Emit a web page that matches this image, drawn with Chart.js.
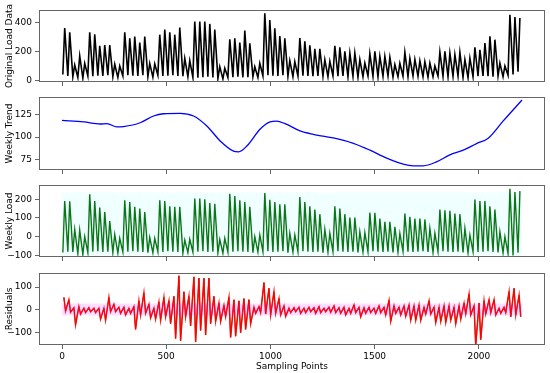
<!DOCTYPE html>
<html><head><meta charset="utf-8">
<script src="https://cdn.jsdelivr.net/npm/chart.js@4.4.0/dist/chart.umd.min.js"></script>
<style>
html,body{margin:0;padding:0;background:#fff;}
#wrap{position:relative;width:550px;height:373px;}
#wrap canvas{position:absolute;left:0;top:0;}
</style></head><body>
<div id="wrap">
<canvas id="c1" width="550" height="373"></canvas>
<canvas id="c2" width="550" height="373"></canvas>
<canvas id="c3" width="550" height="373"></canvas>
<canvas id="c4" width="550" height="373"></canvas>
</div>
<script>
// ---------- data ----------
const samplesPerDay = 24;
const xTicks = [0, 500, 1000, 1500, 2000];

// Original load: daily peak and daily trough (92 days)
const loadPeak = [365,335,107,170,118,335,320,240,245,245,112,100,335,293,305,263,305,118,114,318,353,335,318,367,153,137,409,409,409,393,353,95,84,286,293,263,346,258,95,118,467,420,363,309,293,137,130,295,271,244,220,220,144,132,241,230,202,190,190,144,120,186,202,167,167,160,110,118,195,153,146,135,130,120,100,197,202,190,179,195,144,155,230,213,260,307,283,120,100,457,441,434];
const loadLow  = [40,30,25,20,15,30,28,32,30,35,25,20,30,35,32,30,35,25,22,35,30,32,35,30,28,25,20,18,22,25,20,12,10,20,22,25,20,22,25,20,30,35,32,30,35,28,25,30,32,30,28,30,28,25,30,28,30,25,28,22,25,30,28,25,28,30,22,25,28,25,30,28,25,22,25,30,28,25,28,30,20,18,25,28,30,28,25,30,25,35,40,60];

// Weekly trend: [sample, value]
const trendX = [0,104,184,216,263,295,375,439,487,567,631,695,759,823,847,887,950,998,1030,1070,1142,1206,1318,1398,1478,1558,1637,1685,1733,1797,1861,1925,1989,2045,2117,2207];
const trendY = [118.7,116.9,114.6,115,111.3,111.7,116,123.5,126,126.5,123.5,112.4,95.7,84.3,83.5,90,108.7,116.9,117.8,115,106.9,103.1,98.3,93.1,85.4,76.5,69.8,68,68,72.4,80.2,85.4,92.8,98.7,118,141.3];

// Weekly load: daily peak and trough
const weeklyPeak = [190,189,39,35,0,226,190,155,132,83,12,-9,194,185,159,150,132,-4,-9,194,190,162,159,159,-18,-14,203,203,199,180,176,-14,-9,229,217,194,185,159,0,9,233,197,185,173,173,18,9,212,185,162,145,120,39,18,162,150,120,102,102,26,21,129,127,97,79,79,53,18,123,106,97,97,92,44,18,145,141,138,123,120,44,9,198,190,190,162,145,26,0,256,238,243];
const weeklyLow  = [-85,-80,-82,-90,-95,-85,-80,-78,-82,-80,-85,-88,-82,-80,-78,-80,-82,-85,-86,-80,-82,-78,-80,-82,-88,-85,-82,-80,-78,-82,-80,-86,-88,-82,-80,-78,-80,-82,-85,-82,-80,-78,-82,-80,-78,-85,-82,-80,-78,-80,-82,-80,-85,-82,-80,-78,-80,-82,-80,-84,-82,-80,-78,-80,-82,-80,-84,-82,-78,-80,-82,-80,-78,-82,-84,-80,-78,-80,-82,-80,-84,-86,-80,-82,-80,-78,-82,-84,-86,-90,-100,-85];

// Residuals: daily max and min
const resMax = [55,45,10,15,8,10,8,8,8,55,25,12,12,8,15,40,75,25,8,35,55,40,60,150,80,60,145,140,140,140,60,30,20,55,45,40,50,45,12,15,120,95,80,50,18,8,10,12,8,12,10,15,8,12,18,10,12,8,22,12,10,12,8,18,12,42,18,12,18,22,18,22,12,40,12,12,18,18,12,18,30,70,18,30,40,45,45,8,12,80,95,65];
const resMin = [-5,-10,-65,-18,-12,-8,-12,-40,-45,-8,-8,-15,-22,-15,-85,-22,-15,-35,-40,-45,-30,-60,-125,-135,-30,-70,-140,-90,-110,-60,-50,-50,-30,-120,-115,-100,-85,-60,-15,-12,-18,-22,-15,-22,-28,-12,-8,-15,-12,-8,-15,-12,-8,-10,-12,-15,-22,-15,-12,-30,-15,-12,-15,-12,-22,-50,-15,-22,-28,-45,-45,-45,-18,-18,-55,-50,-55,-45,-60,-40,-18,-22,-155,-130,-18,-12,-22,-15,-12,-30,-22,-30];
const resBand = [28, -24];

// ---------- build points ----------
function dayPoints(low, peak, lowHour, peakHour){
  const pts = [];
  for (let d = 0; d < peak.length; d++){
    pts.push({x: d*samplesPerDay + lowHour, y: low[d]});
    pts.push({x: d*samplesPerDay + peakHour, y: peak[d]});
  }
  return pts;
}
const FONT = {family: "'DejaVu Sans', sans-serif", size: 9};
Chart.defaults.font = FONT;
Chart.defaults.color = '#000';

const frame = {
  id: 'frame',
  afterDraw(chart){
    const a = chart.chartArea, ctx = chart.ctx;
    ctx.save();
    ctx.strokeStyle = '#666';
    ctx.lineWidth = 1;
    ctx.strokeRect(Math.round(a.left)+0.5, Math.round(a.top)+0.5, Math.round(a.right-a.left)-1, Math.round(a.bottom-a.top)-1);
    ctx.restore();
  }
};

const fmt = v => (v < 0 ? '\u2212' + Math.abs(v) : String(v));

function makeChart(id, cfg){
  const showX = cfg.showX;
  new Chart(document.getElementById(id), {
    type: 'line',
    data: {datasets: cfg.datasets},
    options: {
      responsive: false, animation: false, devicePixelRatio: 1,
      layout: {padding: {left: 0, right: 5, top: cfg.top, bottom: cfg.bottom}},
      plugins: {legend: {display: false}, tooltip: {enabled: false}},
      elements: {point: {radius: 0}},
      scales: {
        x: {
          type: 'linear', min: -110.35, max: 2317.35,
          afterBuildTicks: s => { s.ticks = xTicks.map(v => ({value: v})); },
          afterFit: s => { s.height = showX ? 28 : 6; },
          grid: {drawOnChartArea: false, drawTicks: true, tickLength: 4, color: '#666'},
          border: {display: false},
          ticks: {display: showX, padding: 2, maxRotation: 0, font: FONT, color: '#000', callback: fmt},
          title: {display: showX, text: 'Sampling Points', font: FONT, color: '#000', padding: {top: 0, bottom: 1}}
        },
        y: {
          type: 'linear', min: cfg.ymin, max: cfg.ymax,
          afterBuildTicks: s => { s.ticks = cfg.yticks.map(v => ({value: v})); },
          afterFit: s => { s.width = 39; },
          grid: {drawOnChartArea: false, drawTicks: true, tickLength: 4, color: '#666'},
          border: {display: false},
          ticks: {padding: 3, font: FONT, color: '#000', callback: fmt},
          title: {display: true, text: cfg.ylabel, font: FONT, color: '#000', padding: {top: 4, bottom: 0}}
        }
      }
    },
    plugins: [frame]
  });
}

// Panel 1
makeChart('c1', {
  top: 10, bottom: 373 - 82 - 6, ymin: -12, ymax: 490, yticks: [0,200,400],
  ylabel: 'Original Load Data', showX: false,
  datasets: [{data: dayPoints(loadLow, loadPeak, 4, 13), borderColor: '#000', borderWidth: 1.6, tension: 0}]
});
// Panel 2
makeChart('c2', {
  top: 97, bottom: 373 - 170 - 6, ymin: 63.3, ymax: 144.7, yticks: [75,100,125],
  ylabel: 'Weekly Trend', showX: false,
  datasets: [{data: trendX.map((x,i)=>({x, y: trendY[i]})), borderColor: '#0000ff', borderWidth: 1.3, cubicInterpolationMode: 'monotone'}]
});
// Panel 3
makeChart('c3', {
  top: 185, bottom: 373 - 257 - 6, ymin: -108.5, ymax: 275.7, yticks: [-100,0,100,200],
  ylabel: 'Weekly Load', showX: false,
  datasets: [
    {data: [{x:0,y:Math.max(...weeklyPeak)-20},{x:2207,y:Math.max(...weeklyPeak)-20}], borderWidth: 0, backgroundColor: 'rgba(0,255,255,0.06)', fill: '+1'},
    {data: [{x:0,y:Math.min(...weeklyLow)},{x:2207,y:Math.min(...weeklyLow)}], borderWidth: 0, fill: false},
    {data: dayPoints(weeklyLow, weeklyPeak, 4, 13), borderColor: '#0a6e0a', borderWidth: 1.4, tension: 0}
  ]
});
// Panel 4
const resPts = dayPoints(resMin, resMax, 17, 9).sort((a,b)=>a.x-b.x);
makeChart('c4', {
  top: 273, bottom: 373 - 345 - 28, ymin: -153.5, ymax: 162, yticks: [-100,0,100],
  ylabel: 'Residuals', showX: true,
  datasets: [
    {data: [{x:0,y:resBand[0]},{x:2207,y:resBand[0]}], borderWidth: 0, backgroundColor: 'rgba(255,0,255,0.13)', fill: '+1'},
    {data: [{x:0,y:resBand[1]},{x:2207,y:resBand[1]}], borderWidth: 0, fill: false},
    {data: resPts, borderColor: 'rgba(255,0,0,0.9)', borderWidth: 1.5, tension: 0},
    {data: resPts, borderColor: '#8a3a08', borderWidth: 1.0, tension: 0}
  ]
});
</script>
</body></html>
